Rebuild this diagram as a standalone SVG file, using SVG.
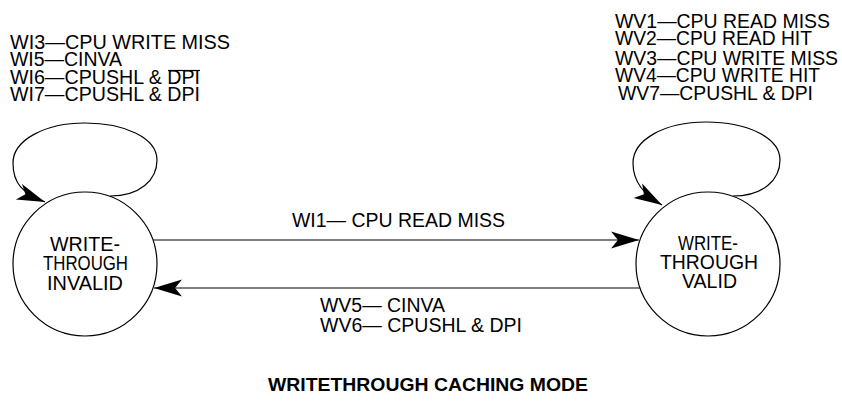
<svg xmlns="http://www.w3.org/2000/svg" width="842" height="404" viewBox="0 0 842 404">
<style>
text{font-family:"Liberation Sans",Arial,sans-serif;font-size:20px;fill:#000}
.st{font-size:21px}
.title{font-weight:bold;font-size:19px}
.node{fill:#fff;stroke:#000;stroke-width:1.2}
.edge{fill:none;stroke:#000;stroke-width:1.2}
</style>
<defs>
<marker id="ah" viewBox="-29 -9 30 18" refX="0" refY="0" markerWidth="30" markerHeight="18" markerUnits="userSpaceOnUse" orient="auto">
<path d="M0,0 L-28,-8.4 L-21,0 L-28,8.4 Z" fill="#000"/>
</marker>
</defs>
<g id="connectors">
<path class="edge" d="M110,196 C140,196 157,180 157,160 C157,138 125,123 85,123 C45,123 13,140 13,163 C13,183 22,193 45,202" marker-end="url(#ah)"/>
<path class="edge" d="M733,196 C763,196 780,180 780,160 C780,138 748,122 706,122 C664,122 633,140 633,163 C633,183 645,195 662,205" marker-end="url(#ah)"/>
<line class="edge" x1="153" y1="240" x2="639" y2="240" marker-end="url(#ah)"/>
<line class="edge" x1="640" y1="288" x2="154" y2="288" marker-end="url(#ah)"/>
</g>
<g id="node-invalid">
<circle class="node" cx="85" cy="264" r="72"/>
<text class="st" x="50" y="251" textLength="70" lengthAdjust="spacingAndGlyphs">WRITE-</text>
<text class="st" x="43" y="270" textLength="85" lengthAdjust="spacingAndGlyphs">THROUGH</text>
<text class="st" x="47" y="290" textLength="76" lengthAdjust="spacingAndGlyphs">INVALID</text>
</g>
<g id="node-valid">
<circle class="node" cx="708" cy="264" r="72"/>
<text class="st" x="678" y="250" textLength="60" lengthAdjust="spacingAndGlyphs">WRITE-</text>
<text class="st" x="660" y="269" textLength="98" lengthAdjust="spacingAndGlyphs">THROUGH</text>
<text class="st" x="682" y="288" textLength="55" lengthAdjust="spacingAndGlyphs">VALID</text>
</g>
<g id="labels-invalid-loop">
<text x="10" y="49" textLength="220" lengthAdjust="spacingAndGlyphs">WI3—CPU WRITE MISS</text>
<text x="10" y="66" textLength="112" lengthAdjust="spacingAndGlyphs">WI5—CINVA</text>
<text x="10" y="84" textLength="190" lengthAdjust="spacingAndGlyphs">WI6—CPUSHL &amp; DPI</text>
<line x1="168" y1="70.5" x2="200" y2="70.5" stroke="#000" stroke-width="1.2"/>
<text x="10" y="101" textLength="190" lengthAdjust="spacingAndGlyphs">WI7—CPUSHL &amp; DPI</text>
</g>
<g id="labels-valid-loop">
<text x="615" y="28" textLength="215" lengthAdjust="spacingAndGlyphs">WV1—CPU READ MISS</text>
<text x="615" y="45" textLength="197" lengthAdjust="spacingAndGlyphs">WV2—CPU READ HIT</text>
<text x="615" y="65" textLength="223" lengthAdjust="spacingAndGlyphs">WV3—CPU WRITE MISS</text>
<text x="615" y="82" textLength="205" lengthAdjust="spacingAndGlyphs">WV4—CPU WRITE HIT</text>
<text x="618" y="100" textLength="195" lengthAdjust="spacingAndGlyphs">WV7—CPUSHL &amp; DPI</text>
</g>
<g id="labels-transitions">
<text x="292" y="227" textLength="213" lengthAdjust="spacingAndGlyphs">WI1— CPU READ MISS</text>
<text x="320" y="312" textLength="125" lengthAdjust="spacingAndGlyphs">WV5— CINVA</text>
<text x="320" y="332" textLength="202" lengthAdjust="spacingAndGlyphs">WV6— CPUSHL &amp; DPI</text>
</g>
<text class="title" x="268" y="391" textLength="320" lengthAdjust="spacingAndGlyphs">WRITETHROUGH CACHING MODE</text>
</svg>
